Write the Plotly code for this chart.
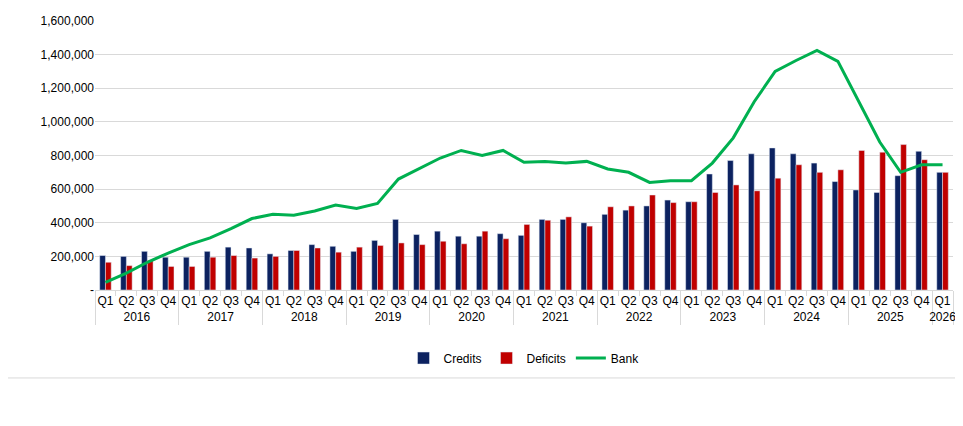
import plotly.graph_objects as go

years = ["2016"]*4 + ["2017"]*4 + ["2018"]*4 + ["2019"]*4 + ["2020"]*4 + ["2021"]*4 + ["2022"]*4 + ["2023"]*4 + ["2024"]*4 + ["2025"]*4 + ["2026"]
quarters = ["Q1", "Q2", "Q3", "Q4"]*10 + ["Q1"]
credits = [205000,200000,230000,195000, 195000,230000,255000,250000, 215000,235000,270000,260000,
           230000,295000,420000,330000, 350000,320000,320000,335000, 325000,420000,420000,400000,
           450000,475000,500000,535000, 525000,690000,770000,810000, 845000,810000,755000,645000,
           595000,580000,680000,825000, 700000]
deficits = [165000,145000,175000,140000, 140000,195000,205000,190000, 200000,235000,250000,225000,
            255000,265000,280000,270000, 290000,275000,350000,305000, 390000,415000,435000,380000,
            495000,500000,565000,520000, 525000,580000,625000,590000, 665000,745000,700000,715000,
            830000,820000,865000,775000, 700000]
bank = [45000,100000,165000,220000, 270000,310000,365000,425000, 450000,445000,470000,505000,
        485000,515000,660000,725000, 785000,830000,800000,830000, 760000,765000,755000,765000,
        720000,700000,640000,650000, 650000,755000,905000,1120000, 1300000,1365000,1425000,1360000,
        1120000,880000,700000,745000, 745000]
tickvals = [0,200000,400000,600000,800000,1000000,1200000,1400000,1600000]
ticktext = ["-","200,000","400,000","600,000","800,000","1,000,000","1,200,000","1,400,000","1,600,000"]

x = [years, quarters]
fig = go.Figure()
fig.add_trace(go.Bar(x=x, y=credits, name="Credits", marker_color="#0C2260"))
fig.add_trace(go.Bar(x=x, y=deficits, name="Deficits", marker_color="#C00000"))
fig.add_trace(go.Scatter(x=x, y=bank, name="Bank", mode="lines", line=dict(color="#00B050", width=3)))
fig.update_layout(
    width=963, height=426, paper_bgcolor="white", plot_bgcolor="white",
    margin=dict(l=87, r=18, t=13, b=144),
    font=dict(family="Liberation Sans, Arial", size=12, color="#000"),
    barmode="group", bargap=0.45, bargroupgap=0,
    legend=dict(orientation="h", x=0.5, xanchor="center", y=-0.253, yanchor="middle", font=dict(size=12)),
    yaxis=dict(range=[0,1600000], tickvals=tickvals, ticktext=ticktext, gridcolor="#D9D9D9",
               zeroline=False, showline=False, ticks="", automargin=False),
    xaxis=dict(showline=True, linecolor="#D9D9D9", showdividers=True, dividercolor="#D9D9D9",
               tickson="boundaries", ticks="outside", tickcolor="#D9D9D9", tickangle=0,
               automargin=False, tickfont=dict(size=12)),
    shapes=[dict(type="line", xref="paper", yref="paper", x0=-0.2, x1=1.1, y0=-0.327, y1=-0.327,
                 line=dict(color="#D9D9D9", width=1))],
)
fig.write_html("out.html")
